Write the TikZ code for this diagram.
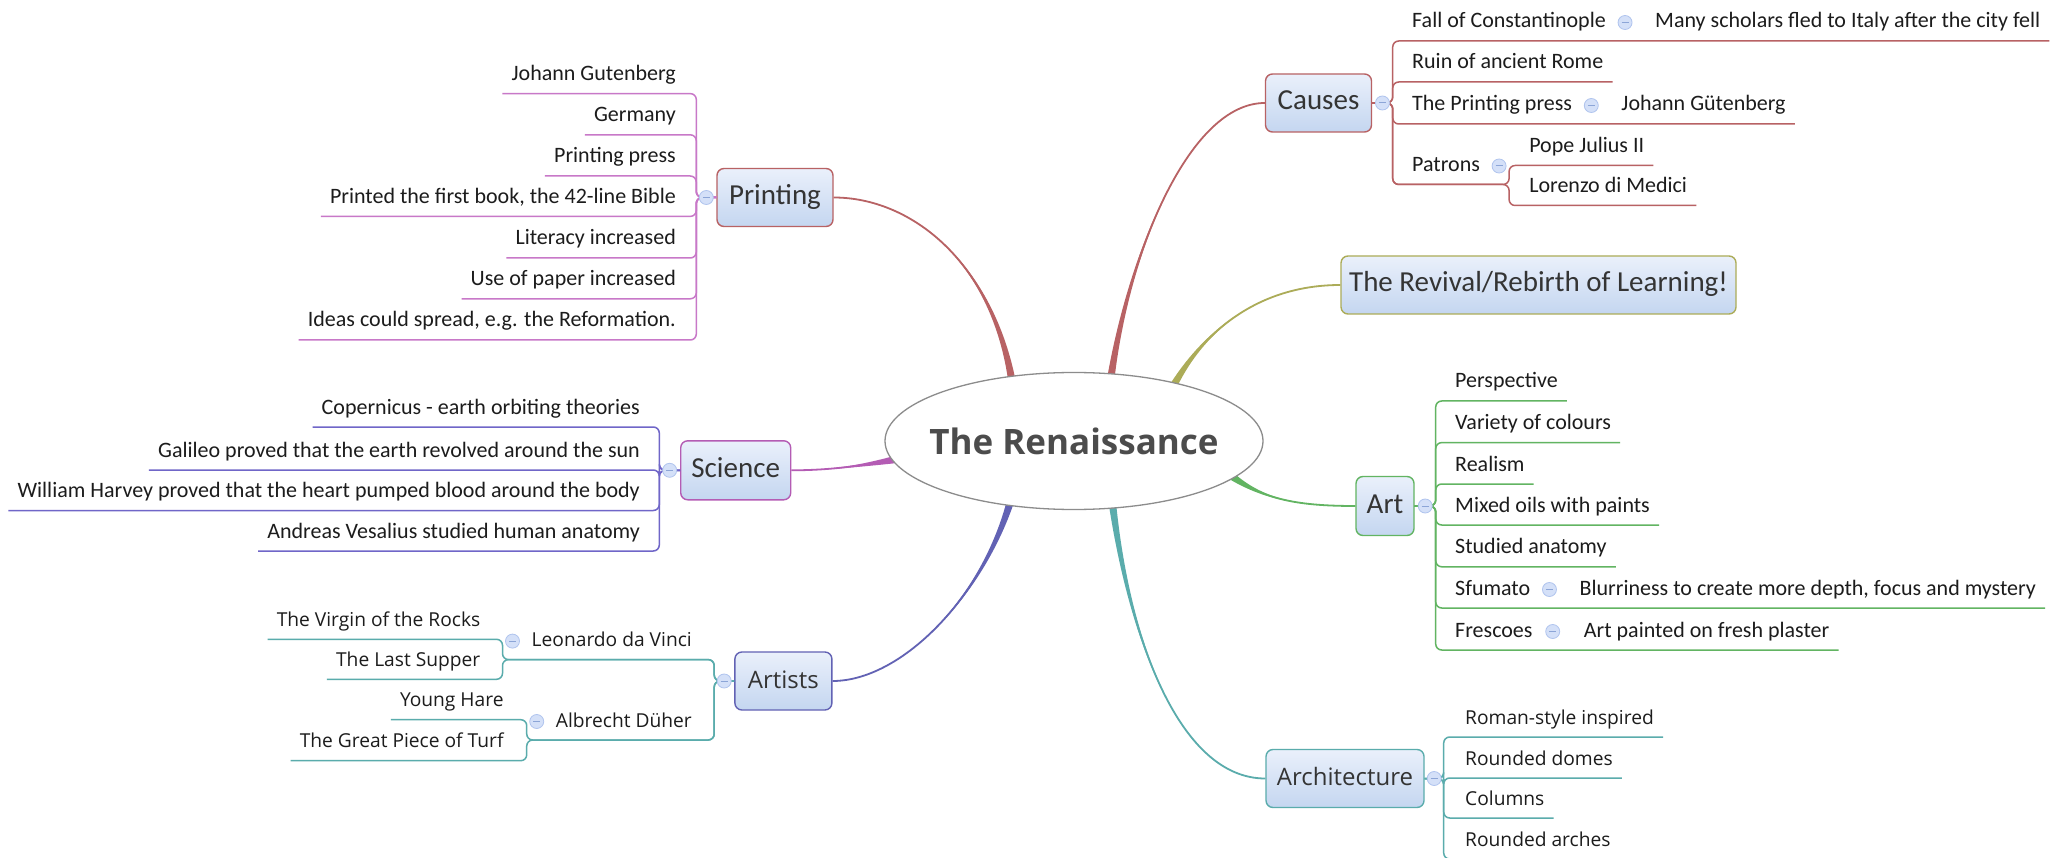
\documentclass[tikz,border=0pt]{standalone}
\usepackage{fontspec}
\setmainfont{Carlito}
\newfontfamily\osans{Open Sans}
\usetikzlibrary{calc,shapes.geometric}
\pgfdeclarelayer{bg}
\pgfsetlayers{bg,main}

% branch colours
\definecolor{cRed}{RGB}{184,98,100}
\definecolor{cOlive}{RGB}{172,172,88}
\definecolor{cGreen}{RGB}{98,180,98}
\definecolor{cTeal}{RGB}{90,172,172}
\definecolor{cBlue}{RGB}{98,98,180}
\definecolor{cMag}{RGB}{180,92,180}
\definecolor{cPink}{RGB}{200,120,200}
\definecolor{cViolet}{RGB}{112,102,200}
% boxes, text, fold markers
\definecolor{boxtop}{RGB}{234,240,251}
\definecolor{boxbot}{RGB}{196,214,240}
\definecolor{leaftext}{RGB}{28,28,28}
\definecolor{topictext}{RGB}{52,52,52}
\definecolor{roottext}{RGB}{76,76,76}
\definecolor{rootline}{RGB}{140,140,140}
\definecolor{foldfill}{RGB}{212,224,248}
\definecolor{foldline}{RGB}{176,196,238}
\definecolor{foldminus}{RGB}{140,165,215}

\newcommand{\leaffont}{\fontsize{22pt}{26pt}\selectfont}
\newcommand{\topicfont}{\fontsize{29pt}{34pt}\selectfont}
\newcommand{\osleaf}{\osans\fontsize{19.2pt}{23pt}\selectfont}
\newcommand{\ostopic}{\osans\fontsize{24pt}{28pt}\selectfont}
\newcommand{\rootfont}{\osans\bfseries\fontsize{35pt}{41pt}\selectfont}

% tapered main branch: start anchor, control 1, control 2, end anchor, colour
\newcommand{\taper}[5]{%
  \coordinate (t0) at ($(#1)!-2pt!(#2)$);
  \fill[#5] ($(t0)!3.6pt!90:(#2)$) .. controls (#2) and (#3) .. (#4)
            .. controls (#3) and (#2) .. ($(t0)!3.6pt!-90:(#2)$) -- cycle;
  \draw[#5, line width=1.8pt] (t0) .. controls (#2) and (#3) .. (#4);
}

\tikzset{
  topic/.style={draw=#1, line width=1.4pt, rounded corners=7pt,
    top color=boxtop, bottom color=boxbot, inner sep=0pt,
    text=topictext, text height=20pt, text depth=6pt},
  leafR/.style={anchor=base west, inner xsep=9pt, inner ysep=0pt,
    text=leaftext, text height=16pt, text depth=5pt},
  leafL/.style={anchor=base east, inner xsep=9pt, inner ysep=0pt,
    text=leaftext, text height=16pt, text depth=5pt},
  fold/.style={circle, draw=foldline, fill=foldfill, line width=0.8pt,
    minimum size=14pt, inner sep=0pt,
    path picture={\draw[foldminus, line width=1pt]
      ($(path picture bounding box.center)+(-3.5,0)$) --
      ($(path picture bounding box.center)+(3.5,0)$);}},
  link/.style={draw=#1, line width=1.5pt, rounded corners=6pt},
}

\begin{document}
\begin{tikzpicture}[x=1pt,y=-1pt]
\useasboundingbox (0,0) rectangle (2067,858);
\clip (0,0) rectangle (2067,858);
\begin{pgfonlayer}{bg}
  \fill[white] (0,0) rectangle (2067,858);
\end{pgfonlayer}

% ---------- central topic ----------
\node[ellipse, draw=rootline, line width=1.3pt, fill=white,
  minimum width=378pt, minimum height=137pt, inner sep=0pt,
  text=roottext, font=\rootfont] (root) at (1074,441)
  {\makebox[0pt]{The Renaissance}};

% ---------- main topics ----------
\node[topic=cRed, minimum width=106pt, minimum height=58pt, font=\topicfont] (causes) at (1318.5,103) {Causes};
\node[topic=cOlive, minimum width=395pt, minimum height=58pt, font=\topicfont] (revival) at (1538.5,285) {The Revival/Rebirth of Learning!};
\node[topic=cGreen, minimum width=58pt, minimum height=59pt, font=\topicfont] (art) at (1385,506) {Art};
\node[topic=cTeal, minimum width=158pt, minimum height=58pt, font=\ostopic] (arch) at (1345,778.5) {Architecture};
\node[topic=cRed, minimum width=116pt, minimum height=58pt, font=\topicfont] (printing) at (775,197.5) {Printing};
\node[topic=cMag, minimum width=110pt, minimum height=59pt, font=\topicfont] (science) at (735.7,470.3) {Science};
\node[topic=cBlue, minimum width=97pt, minimum height=58pt, font=\ostopic] (artists) at (783.4,681) {Artists};

% bracket points
\coordinate (causes-b) at ($(causes.east)+(20.5,0)$);
\coordinate (art-b) at ($(art.east)+(21,0)$);
\coordinate (arch-b) at ($(arch.east)+(19,0)$);
\coordinate (printing-b) at ($(printing.west)+(-20,0)$);
\coordinate (science-b) at ($(science.west)+(-20.7,0)$);
\coordinate (artists-b) at ($(artists.west)+(-20,0)$);

% ---------- main branches ----------
\begin{pgfonlayer}{bg}
  \taper{root.134}{990,260}{910,197.5}{printing.east}{cRed}
  \taper{root.61}{1130,250}{1190,103}{causes.west}{cRed}
  \taper{root.30}{1205,330}{1260,285}{revival.west}{cOlive}
  \taper{root.-13.5}{1265,500}{1300,506}{art.west}{cGreen}
  \taper{root.-60.6}{1130,640}{1180,778.5}{arch.west}{cTeal}
  \taper{root.-135}{980,600}{900,681}{artists.east}{cBlue}
  \taper{root.186}{850,468}{820,470.3}{science.east}{cMag}
\end{pgfonlayer}

% ---------- Causes ----------
\begin{scope}[font=\leaffont]
\node[leafR] (fall) at (1403,28) {Fall of Constantinople};
\node[leafR] (many) at ($(fall.base east)+(31,0)$) {Many scholars fled to Italy after the city fell};
\node[leafR] (ruin) at (1403,69) {Ruin of ancient Rome};
\node[leafR] (press) at (1403,111) {The Printing press};
\node[leafR] (jgut) at ($(press.base east)+(31,0)$) {Johann Gütenberg};
\node[leafR] (patrons) at (1403,171.5) {Patrons};
\coordinate (patrons-b) at ($(patrons.base east)+(20,13)$);
\node[leafR] (pope) at ($(patrons-b)+(11,-32)$) {Pope Julius II};
\node[leafR] (lorenzo) at ($(patrons-b)+(11,8)$) {Lorenzo di Medici};
\end{scope}
\foreach \n in {many,ruin,jgut,pope,lorenzo}
  \coordinate (\n-u) at ($(\n.base east)+(0,13)$);
\draw[link=cRed] (causes.east) -- (causes-b) |- (many-u);
\draw[link=cRed] (causes.east) -- (causes-b) |- (ruin-u);
\draw[link=cRed] (causes.east) -- (causes-b) |- (jgut-u);
\draw[link=cRed] (causes.east) -- (causes-b) |- (patrons-b) |- (pope-u);
\draw[link=cRed] (causes.east) -- (causes-b) |- (patrons-b) |- (lorenzo-u);
\node[fold] (causes-f) at ($(causes.east)!0.5!(causes-b)$) {};
\node[fold] (fall-f) at ($(fall.east)+(10,0)$) {};
\node[fold] (press-f) at ($(press.east)+(10,0)$) {};
\node[fold] (patrons-f) at ($(patrons.east)+(10,0)$) {};

% ---------- Art ----------
\begin{scope}[font=\leaffont]
\node[leafR] (persp) at (1446,388) {Perspective};
\node[leafR] (variety) at (1446,429.6) {Variety of colours};
\node[leafR] (realism) at (1446,471) {Realism};
\node[leafR] (mixed) at (1446,512) {Mixed oils with paints};
\node[leafR] (studied) at (1446,553.8) {Studied anatomy};
\node[leafR] (sfumato) at (1446,595) {Sfumato};
\node[leafR] (blur) at ($(sfumato.base east)+(31,0)$) {Blurriness to create more depth, focus and mystery};
\node[leafR] (fresco) at (1446,637) {Frescoes};
\node[leafR] (plaster) at ($(fresco.base east)+(33,0)$) {Art painted on fresh plaster};
\end{scope}
\foreach \n in {persp,variety,realism,mixed,studied,blur,plaster}{
  \coordinate (\n-u) at ($(\n.base east)+(0,13)$);
  \draw[link=cGreen] (art.east) -- (art-b) |- (\n-u);
}
\node[fold] (art-f) at ($(art.east)!0.5!(art-b)$) {};
\node[fold] (sfumato-f) at ($(sfumato.east)+(10,0)$) {};
\node[fold] (fresco-f) at ($(fresco.east)+(11,0)$) {};

% ---------- Architecture ----------
\begin{scope}[font=\osleaf]
\node[leafR] (roman) at (1456,724) {Roman-style inspired};
\node[leafR] (domes) at (1456,765) {Rounded domes};
\node[leafR] (columns) at (1456,805) {Columns};
\node[leafR] (arches) at (1456,846) {Rounded arches};
\end{scope}
\foreach \n in {roman,domes,columns,arches}{
  \coordinate (\n-u) at ($(\n.base east)+(0,13)$);
  \draw[link=cTeal] (arch.east) -- (arch-b) |- (\n-u);
}
\node[fold] (arch-f) at ($(arch.east)!0.5!(arch-b)$) {};

% ---------- Printing ----------
\begin{scope}[font=\leaffont]
\node[leafL] (jg) at (685,80.6) {Johann Gutenberg};
\node[leafL] (germany) at (685,121.8) {Germany};
\node[leafL] (ppress) at (685,163) {Printing press};
\node[leafL] (bible) at (685,203.4) {Printed the first book, the 42-line Bible};
\node[leafL] (literacy) at (685,245) {Literacy increased};
\node[leafL] (paper) at (685,285.8) {Use of paper increased};
\node[leafL] (ideas) at (685,327) {Ideas could spread, e.g. the Reformation.};
\end{scope}
\foreach \n in {jg,germany,ppress,bible,literacy,paper,ideas}{
  \coordinate (\n-u) at ($(\n.base west)+(0,13)$);
  \draw[link=cPink] (printing.west) -- (printing-b) |- (\n-u);
}
\node[fold] (printing-f) at ($(printing.west)!0.5!(printing-b)$) {};

% ---------- Science ----------
\begin{scope}[font=\leaffont]
\node[leafL] (copern) at (649,414) {Copernicus - earth orbiting theories};
\node[leafL] (galileo) at (649,457) {Galileo proved that the earth revolved around the sun};
\node[leafL] (harvey) at (649,497.5) {William Harvey proved that the heart pumped blood around the body};
\node[leafL] (vesal) at (649,538) {Andreas Vesalius studied human anatomy};
\end{scope}
\foreach \n in {copern,galileo,harvey,vesal}{
  \coordinate (\n-u) at ($(\n.base west)+(0,13)$);
  \draw[link=cViolet] (science.west) -- (science-b) |- (\n-u);
}
\node[fold] (science-f) at ($(science.west)!0.5!(science-b)$) {};

% ---------- Artists ----------
\begin{scope}[font=\osleaf]
\node[leafL] (leo) at (701,646.6) {Leonardo da Vinci};
\coordinate (leo-b) at ($(leo.base west)+(-20,13)$);
\node[leafL] (virgin) at ($(leo-b)+(-13,-33.3)$) {The Virgin of the Rocks};
\node[leafL] (supper) at ($(leo-b)+(-13,6.7)$) {The Last Supper};
\node[leafL] (alb) at (701,727) {Albrecht Düher};
\coordinate (alb-b) at ($(alb.base west)+(-20,13)$);
\node[leafL] (hare) at ($(alb-b)+(-14,-33.3)$) {Young Hare};
\node[leafL] (turf) at ($(alb-b)+(-14,7.7)$) {The Great Piece of Turf};
\end{scope}
\foreach \n in {virgin,supper,hare,turf}
  \coordinate (\n-u) at ($(\n.base west)+(0,13)$);
\draw[link=cTeal] (artists.west) -- (artists-b) |- (leo-b) |- (virgin-u);
\draw[link=cTeal] (artists.west) -- (artists-b) |- (leo-b) |- (supper-u);
\draw[link=cTeal] (artists.west) -- (artists-b) |- (alb-b) |- (hare-u);
\draw[link=cTeal] (artists.west) -- (artists-b) |- (alb-b) |- (turf-u);
\node[fold] (artists-f) at ($(artists.west)!0.5!(artists-b)$) {};
\node[fold] (leo-f) at ($(leo.west)+(-10,0)$) {};
\node[fold] (alb-f) at ($(alb.west)+(-10,0)$) {};
\end{tikzpicture}
\end{document}
